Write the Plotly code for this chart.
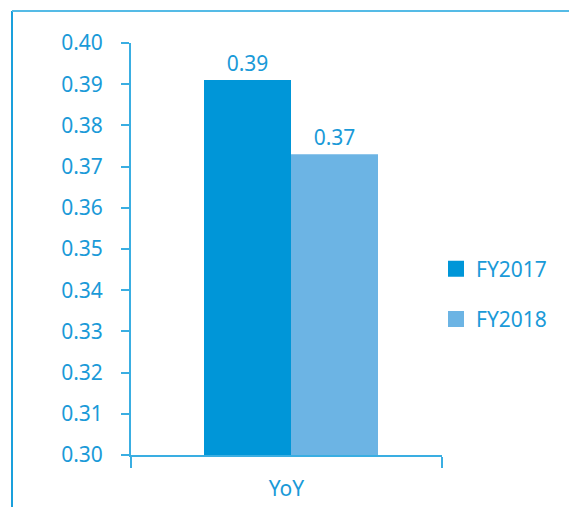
import plotly.graph_objects as go

categories = ["YoY"]
series_names = ["FY2017", "FY2018"]
fy2017 = [0.391]
fy2018 = [0.373]
fy2017_text = ["0.39"]
fy2018_text = ["0.37"]
y_ticks = [0.30, 0.31, 0.32, 0.33, 0.34, 0.35, 0.36, 0.37, 0.38, 0.39, 0.40]

C17 = "#0096d8"
C18 = "#6cb4e4"
TXT = "#1a9ad8"
AX = "#3aaee2"
FONT = "Noto Sans"
FS = 21

W, H = 569, 507
L, R, T, B = 131, 569 - 442, 43, 507 - 455
pw, ph = W - L - R, H - T - B

def px(x):
    return (x - L) / pw

def py(y):
    return (H - B - y) / ph

BW = 87 / pw
offsets = [(204 - L) / pw - 0.5, (291 - L) / pw - 0.5]

fig = go.Figure()
for name, vals, txt, col, off in [(series_names[0], fy2017, fy2017_text, C17, offsets[0]),
                                   (series_names[1], fy2018, fy2018_text, C18, offsets[1])]:
    fig.add_trace(go.Bar(
        x=categories, y=vals, name=name, marker=dict(color=col, line=dict(width=0)),
        width=BW, offset=off,
        text=txt, textposition="outside", cliponaxis=False,
        textfont=dict(color=TXT, size=FS, family=FONT), showlegend=False,
    ))
for i, (name, col) in enumerate([(series_names[0], C17), (series_names[1], C18)]):
    fig.add_trace(go.Scatter(
        x=[None], y=[None], mode="markers", name=name, legendgroup=f"g{i}",
        marker=dict(symbol="square", size=16, color=col),
    ))

fig.update_layout(
    width=W, height=H,
    margin=dict(l=L, r=R, t=T, b=B, autoexpand=False),
    paper_bgcolor="white", plot_bgcolor="white",
    barmode="overlay",
    font=dict(family=FONT, size=FS, color=TXT),
    showlegend=True,
    legend=dict(x=px(436), y=py(294), xanchor="left", yanchor="middle",
                font=dict(size=FS, color=TXT, family=FONT),
                tracegroupgap=20, bgcolor="rgba(0,0,0,0)"),
    xaxis=dict(showline=True, linecolor=AX, linewidth=2, ticks="outside",
               tickson="boundaries", ticklen=11, tickwidth=2, tickcolor=AX,
               showgrid=False, zeroline=False, ticklabelstandoff=14,
               automargin=False,
               tickfont=dict(size=FS, color=TXT, family=FONT)),
    yaxis=dict(range=[0.30, 0.40], tickvals=y_ticks, tickformat=".2f",
               showline=True, linecolor=AX, linewidth=2, ticks="outside",
               ticklen=8, tickwidth=2, tickcolor=AX, showgrid=False,
               zeroline=False, ticklabelstandoff=14, automargin=False,
               tickfont=dict(size=FS, color=TXT, family=FONT)),
    shapes=[
        dict(type="line", xref="paper", yref="paper", x0=px(12), x1=px(12),
             y0=py(511), y1=py(11), line=dict(color="#1aa0dc", width=2)),
        dict(type="line", xref="paper", yref="paper", x0=px(12), x1=px(575),
             y0=py(11), y1=py(11), line=dict(color="#55bbe6", width=2)),
    ],
)

fig.write_html("out.html")
